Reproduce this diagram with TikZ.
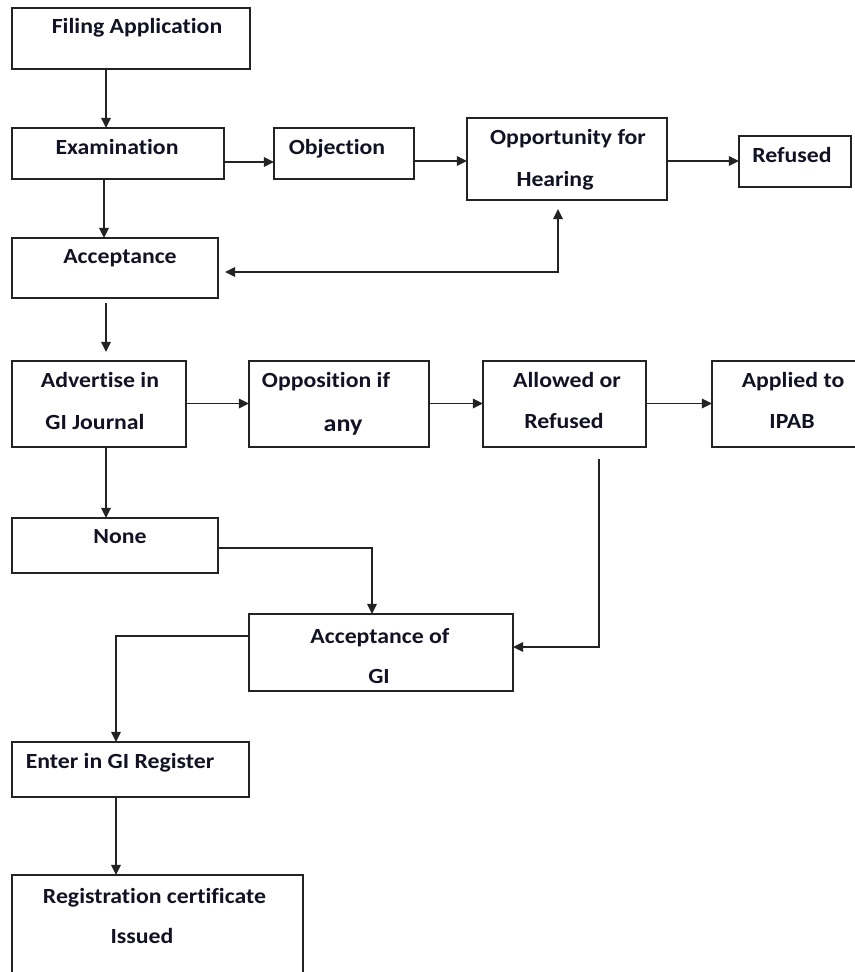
\documentclass[tikz,border=0pt]{standalone}
\usepackage{fontspec}
\setmainfont{Carlito}[FakeStretch=1.1, Ligatures=NoCommon]
\usetikzlibrary{arrows.meta,fit}
\definecolor{txt}{RGB}{18,18,36}
\definecolor{ln}{RGB}{35,35,35}
\tikzset{
  box/.style={draw=ln, line width=1.3pt, inner sep=0pt, outer sep=0pt, rectangle},
  lbl/.style={anchor=base, inner sep=0pt, text=txt, font=\fontsize{12.3}{14}\selectfont\bfseries},
  arr/.style={draw=ln, line width=1.1pt, -{Triangle[length=5.8pt,width=5.4pt]}},
  arrb/.style={draw=ln, line width=1.1pt, {Triangle[length=5.8pt,width=5.4pt]}-{Triangle[length=5.8pt,width=5.4pt]}}
}
\begin{document}
\begin{tikzpicture}[x=0.02cm,y=-0.02cm]
\useasboundingbox (0,0) rectangle (854,972);
% boxes
\node[box, fit={(12,8) (250,69)}] (fa) {};
\node[box, fit={(12,128) (224,179)}] (ex) {};
\node[box, fit={(274,128) (414,179)}] (ob) {};
\node[box, fit={(467,118) (667,200)}] (op) {};
\node[box, fit={(739,136) (851,187)}] (rf) {};
\node[box, fit={(12,238) (218,298)}] (ac) {};
\node[box, fit={(12,361) (186,447)}] (ad) {};
\node[box, fit={(249,361) (429,447)}] (oo) {};
\node[box, fit={(483,361) (646,447)}] (ar) {};
\node[box, fit={(712,361) (860,447)}] (ip) {};
\node[box, fit={(12,518) (218,573)}] (no) {};
\node[box, fit={(249,614) (513,691)}] (ag) {};
\node[box, fit={(12,742) (249,797)}] (en) {};
\node[box, fit={(12,875) (303,990)}] (rc) {};
% labels
\node[lbl] (fa-t) at (137,33.5) {Filing Application};
\node[lbl] (ex-t) at (117,155) {Examination};
\node[lbl] (ob-t) at (337,155) {Objection};
\node[lbl] (op-t1) at (568,144.5) {Opportunity for};
\node[lbl] (op-t2) at (555,186.5) {Hearing};
\node[lbl] (rf-t) at (792,162.5) {Refused};
\node[lbl] (ac-t) at (120,263.5) {Acceptance};
\node[lbl] (ad-t1) at (100,388) {Advertise in};
\node[lbl] (ad-t2) at (95,429) {GI Journal};
\node[lbl] (oo-t1) at (326,388) {Opposition if};
\node[lbl, font=\fontsize{13.5}{15}\selectfont\bfseries] (oo-t2) at (343,431) {any};
\node[lbl] (ar-t1) at (567,388) {Allowed or};
\node[lbl] (ar-t2) at (564,428) {Refused};
\node[lbl] (ip-t1) at (793,388) {Applied to};
\node[lbl] (ip-t2) at (792,428) {IPAB};
\node[lbl] (no-t) at (120,543) {None};
\node[lbl] (ag-t1) at (380,643) {Acceptance of};
\node[lbl] (ag-t2) at (379,683) {GI};
\node[lbl] (en-t) at (120,768) {Enter in GI Register};
\node[lbl] (rc-t1) at (154.5,903) {Registration certificate};
\node[lbl] (rc-t2) at (142,943) {Issued};
% helper coordinates
\coordinate (k1) at (106,0);
\coordinate (k2) at (0,162);
\coordinate (k3) at (0,161);
\coordinate (k4) at (104,0);
\coordinate (k5) at (0,403.5);
\coordinate (k6) at (0,548);
\coordinate (k7) at (372,0);
\coordinate (k8) at (0,647);
\coordinate (k9) at (0,636);
\coordinate (k10) at (116,0);
\coordinate (h1) at (225,272);
\coordinate (h2) at (558,272);
\coordinate (h3) at (558,209);
\coordinate (p1) at (106,303);
\coordinate (p2) at (106,352);
\coordinate (q1) at (599,459);
% connectors
\draw[arr] (fa.south -| k1) -- (ex.north -| k1);
\draw[arr] (ex.east |- k2) -- (ob.west |- k2);
\draw[arr] (ob.east |- k3) -- (op.west |- k3);
\draw[arr] (op.east |- k3) -- (rf.west |- k3);
\draw[arr] (ex.south -| k4) -- (ac.north -| k4);
\draw[arrb] (h1) -- (h2) -- (h3);
\draw[arr] (p1) -- (p2);
\draw[arr] (ad.east |- k5) -- (oo.west |- k5);
\draw[arr] (oo.east |- k5) -- (ar.west |- k5);
\draw[arr] (ar.east |- k5) -- (ip.west |- k5);
\draw[arr] (ad.south -| k1) -- (no.north -| k1);
\draw[arr] (no.east |- k6) -| (ag.north -| k7);
\draw[arr] (q1) |- (ag.east |- k8);
\draw[arr] (ag.west |- k9) -| (en.north -| k10);
\draw[arr] (en.south -| k10) -- (rc.north -| k10);
\end{tikzpicture}
\end{document}
